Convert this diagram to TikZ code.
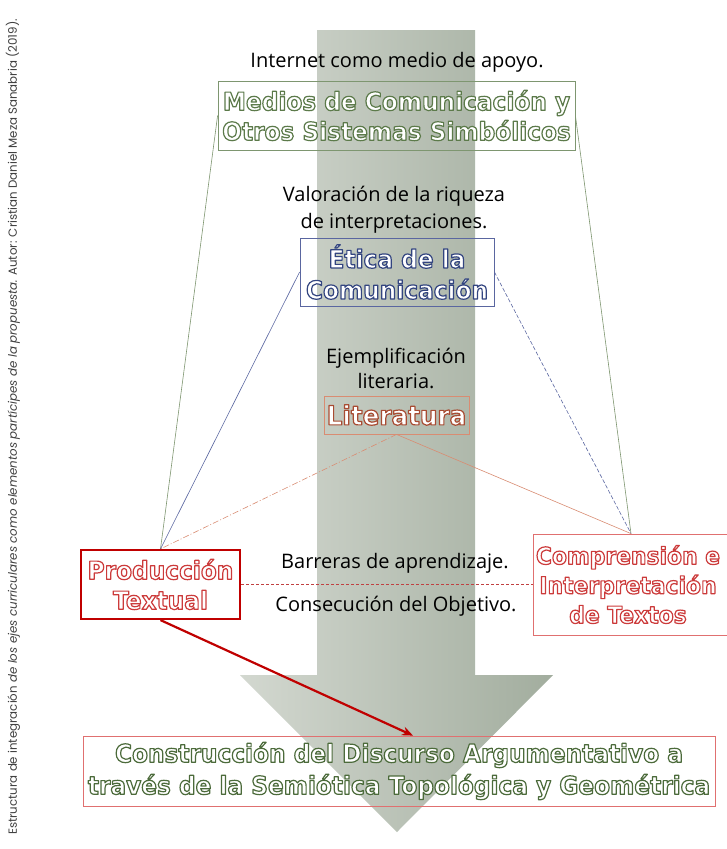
\documentclass[tikz,border=0pt]{standalone}
\usepackage{fontspec}
\setmainfont{Open Sans}
\newfontfamily\heavy{DejaVu Sans}[FakeStretch=0.93]
\newfontfamily\capfont{Poppins}
\newcommand\olt[2]{{\special{pdf:code q 2 Tr 1.2 w 1 j #1 RG}#2\special{pdf:code Q}}}
\usetikzlibrary{calc,arrows.meta}
\definecolor{arrowL}{HTML}{D3D8D0}
\definecolor{arrowR}{HTML}{A2AD9E}
\definecolor{gborder}{HTML}{7E9670}
\definecolor{bborder}{HTML}{5A66A0}
\definecolor{lborder}{HTML}{D98C72}
\definecolor{rthick}{HTML}{C00000}
\definecolor{rthin}{HTML}{E07070}
\definecolor{dred}{HTML}{C04040}
\def\gtext{0.36 0.48 0.29}
\def\btext{0.20 0.27 0.50}
\def\ltext{0.66 0.30 0.20}
\def\rtext{0.80 0.23 0.23}
\def\dgtext{0.30 0.42 0.23}
\begin{document}
\begin{tikzpicture}[x=1pt,y=-1pt,
  lbl/.style={font=\fontsize{20}{27}\selectfont, align=center, inner sep=0pt, text=black},
  boxn/.style={draw, align=center, inner sep=0pt, text=white},
  ttl/.style={font=\heavy\bfseries\fontsize{25}{30}\selectfont},
  thinline/.style={line width=0.6pt}
]
\useasboundingbox (0,0) rectangle (726,849);
\fill[white] (0,0) rectangle (726,849);
% big arrow
\shade[left color=arrowL, right color=arrowR]
  (317,30) -- (475,30) -- (475,675) -- (553,675) -- (397,832) -- (240,675) -- (317,675) -- cycle;

% caption
\node[rotate=90, font=\capfont\fontsize{11.8}{13}\selectfont, text=black!75, inner sep=0pt] (caption) at (13,427)
 {Estructura de integración \textit{de los ejes curriculares como elementos partícipes de la propuesta.} Autor: Cristian Daniel Meza Sanabria (2019).};

% labels
\node[lbl] (tinternet) at (397,62) {Internet como medio de apoyo.};
\node[lbl] (tvalor) at (394,210) {Valoración de la riqueza\\de interpretaciones.};
\node[lbl, font=\fontsize{20}{25}\selectfont] (tejem) at (396,368) {Ejemplificación\\literaria.};
\node[lbl] (tbarr) at (395,563) {Barreras de aprendizaje.};
\node[lbl] (tcons) at (396,606) {Consecución del Objetivo.};

% boxes
\node[boxn, ttl, draw=gborder, line width=0.8pt, minimum width=357, minimum height=69] (medios) at (396.5,115.5)
 {\olt{\gtext}{Medios de Comunicación y}\\\olt{\gtext}{Otros Sistemas Simbólicos}};
\node[boxn, ttl, font=\heavy\bfseries\fontsize{25}{31}\selectfont, draw=bborder, line width=0.8pt, minimum width=194, minimum height=68] (etica) at (397,272)
 {\olt{\btext}{Ética de la}\\\olt{\btext}{Comunicación}};
\node[boxn, ttl, font=\heavy\bfseries\fontsize{26.5}{28}\selectfont, draw=lborder, line width=0.8pt, minimum width=145, minimum height=38] (literatura) at (396.5,415)
 {\olt{\ltext}{Literatura}};
\node[boxn, ttl, draw=rthick, line width=2.2pt, minimum width=159, minimum height=69] (produccion) at (160.5,584.5)
 {\olt{\rtext}{Producción}\\\olt{\rtext}{Textual}};
\node[boxn, ttl, font=\heavy\bfseries\fontsize{23.5}{29.5}\selectfont, draw=rthin, line width=0.8pt, minimum width=196, minimum height=101] (comprension) at (631,584.5)
 {\hspace*{-6pt}\olt{\rtext}{Comprensión e}\\\hspace*{-6pt}\olt{\rtext}{Interpretación}\\\hspace*{-6pt}\olt{\rtext}{de Textos}};
\node[boxn, ttl, font=\heavy\bfseries\fontsize{25}{32}\selectfont, draw=rthin, line width=0.8pt, minimum width=632, minimum height=70] (construccion) at (399,771)
 {\olt{\dgtext}{Construcción del Discurso Argumentativo a}\\\olt{\dgtext}{través de la Semiótica Topológica y Geométrica}};

% connectors
\draw[thinline, draw=gborder] (medios.west) -- (produccion.north);
\draw[thinline, draw=gborder] (medios.east) -- (comprension.north);
\draw[thinline, draw=bborder] (etica.west) -- (produccion.north);
\draw[thinline, draw=bborder, dash pattern=on 4pt off 2pt] (etica.east) -- (comprension.north);
\draw[thinline, draw=lborder, dash pattern=on 6pt off 2pt on 1pt off 2pt] (literatura.south) -- (produccion.north);
\draw[thinline, draw=lborder] (literatura.south) -- (comprension.north);
\draw[thinline, draw=dred, dash pattern=on 3pt off 2pt] (produccion.east) -- (comprension.west);
\coordinate (arrowend) at ($(construccion.north)+(14,0)$);
\draw[line width=2.2pt, draw=rthick, -{Stealth[length=11pt,width=9pt]}] (produccion.south) -- (arrowend);
\end{tikzpicture}
\end{document}
